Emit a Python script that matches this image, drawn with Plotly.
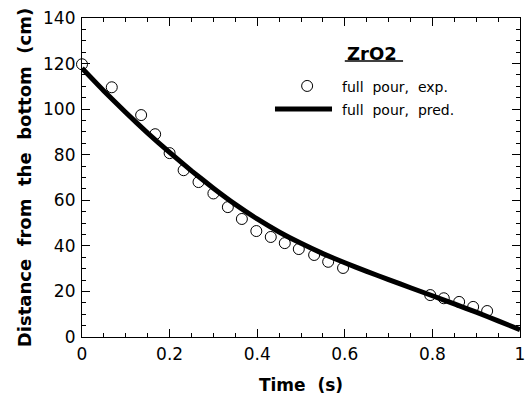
import plotly.graph_objects as go

# Experimental data (full pour, exp.)
t_exp = [0.0, 0.068, 0.135, 0.167, 0.200, 0.232, 0.266, 0.300, 0.333, 0.365, 0.398,
         0.431, 0.463, 0.495, 0.530, 0.562, 0.596, 0.795, 0.826, 0.861, 0.893, 0.925]
d_exp = [119.7, 109.6, 97.4, 89.0, 80.7, 73.2, 68.0, 63.0, 57.0, 51.8, 46.5,
         43.9, 41.2, 38.6, 36.0, 33.0, 30.3, 18.4, 17.0, 15.4, 13.2, 11.4]

# Predicted curve (full pour, pred.)
t_pred = [0.0, 0.05, 0.10, 0.15, 0.20, 0.25, 0.30, 0.35, 0.40, 0.45, 0.50,
          0.55, 0.60, 0.65, 0.70, 0.75, 0.80, 0.85, 0.90, 0.95, 1.0]
d_pred = [118.0, 108.0, 98.5, 89.5, 81.0, 72.9, 65.3, 58.2, 51.8, 46.1, 41.1,
          36.6, 32.6, 28.8, 25.2, 21.6, 18.1, 14.5, 10.9, 7.1, 3.2]

x_ticks = [0, 0.2, 0.4, 0.6, 0.8, 1]
x_ticklabels = ["0", "0.2", "0.4", "0.6", "0.8", "1"]
y_ticks = [0, 20, 40, 60, 80, 100, 120, 140]
y_ticklabels = ["0", "20", "40", "60", "80", "100", "120", "140"]

FONT = "DejaVu Sans"

fig = go.Figure()
fig.add_trace(go.Scatter(
    x=t_pred, y=d_pred, mode="lines",
    line=dict(color="black", width=5, shape="spline", smoothing=0.4),
    showlegend=False, cliponaxis=False,
))
fig.add_trace(go.Scatter(
    x=t_exp, y=d_exp, mode="markers",
    marker=dict(symbol="circle-open", size=11, color="black", line=dict(width=1, color="black")),
    showlegend=False, cliponaxis=False,
))

axis_common = dict(
    showline=True, linecolor="black", linewidth=1.2, mirror="ticks",
    ticks="inside", ticklen=8, tickwidth=1, tickcolor="black",
    showgrid=False, zeroline=False,
    tickfont=dict(family=FONT, size=17, color="black"),
)

fig.update_xaxes(
    range=[0, 1], tickmode="array", tickvals=x_ticks, ticktext=x_ticklabels,
    minor=dict(ticks="inside", ticklen=4, dtick=0.05, tick0=0, tickcolor="black", tickwidth=1, showgrid=False),
    title=dict(text="<b>Time\u00a0 (s)</b>", font=dict(family=FONT, size=17, color="black"), standoff=16),
    ticklabelstandoff=1,
    **axis_common,
)
fig.update_yaxes(
    range=[0, 140], tickmode="array", tickvals=y_ticks, ticktext=y_ticklabels,
    minor=dict(ticks="inside", ticklen=4, dtick=5, tick0=0, tickcolor="black", tickwidth=1, showgrid=False),
    title=dict(text="<b>Distance\u00a0 from\u00a0 the\u00a0 bottom\u00a0 (cm)</b>",
               font=dict(family=FONT, size=18, color="black"), standoff=6),
    ticklabelstandoff=2,
    **axis_common,
)

# Legend drawn manually
fig.add_annotation(x=0.600, y=0.890, xref="paper", yref="paper", xanchor="left", yanchor="middle",
                   text="<b>ZrO2</b>", showarrow=False, font=dict(family=FONT, size=18, color="black"))
fig.add_shape(type="line", xref="paper", yref="paper", x0=0.600, x1=0.733, y0=0.865, y1=0.865,
              line=dict(color="black", width=1.5))
fig.add_shape(type="circle", xref="paper", yref="paper", xsizemode="pixel", ysizemode="pixel",
              xanchor=0.514, yanchor=0.787, x0=-5.5, x1=5.5, y0=-5.5, y1=5.5,
              line=dict(color="black", width=1))
fig.add_shape(type="line", xref="paper", yref="paper", x0=0.4406, x1=0.5708, y0=0.7147, y1=0.7147,
              line=dict(color="black", width=5))
fig.add_annotation(x=0.589, y=0.784, xref="paper", yref="paper", xanchor="left", yanchor="middle",
                   text="full\u00a0 pour,\u00a0 exp.", showarrow=False, font=dict(family=FONT, size=14, color="black"))
fig.add_annotation(x=0.589, y=0.712, xref="paper", yref="paper", xanchor="left", yanchor="middle",
                   text="full\u00a0 pour,\u00a0 pred.", showarrow=False, font=dict(family=FONT, size=14, color="black"))

fig.update_layout(
    width=526, height=401,
    margin=dict(l=82, r=6, t=18, b=64, autoexpand=False),
    paper_bgcolor="white", plot_bgcolor="white",
    showlegend=False,
)

fig.write_html("out.html", config={"displayModeBar": False},
               post_script="document.body.style.margin='0';document.body.style.padding='0';")
